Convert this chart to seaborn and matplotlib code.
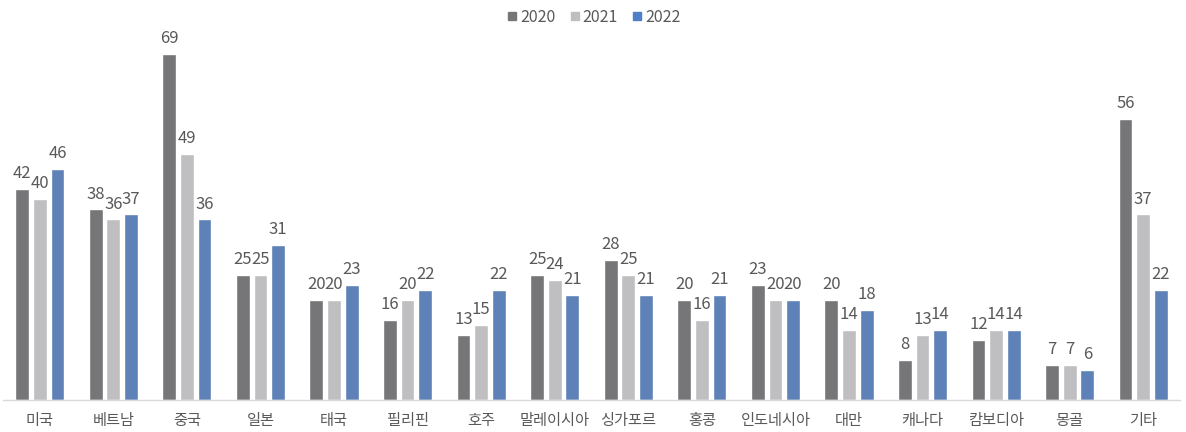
import pandas as pd
import matplotlib.pyplot as plt
import seaborn as sns
from matplotlib.lines import Line2D

countries = ['미국', '베트남', '중국', '일본', '태국', '필리핀', '호주', '말레이시아',
             '싱가포르', '홍콩', '인도네시아', '대만', '캐나다', '캄보디아', '몽골', '기타']
years = ['2020', '2021', '2022']
v2020 = [42, 38, 69, 25, 20, 16, 13, 25, 28, 20, 23, 20, 8, 12, 7, 56]
v2021 = [40, 36, 49, 25, 20, 20, 15, 24, 25, 16, 20, 14, 13, 14, 7, 37]
v2022 = [46, 37, 36, 31, 23, 22, 22, 21, 21, 21, 20, 18, 14, 14, 6, 22]
colors = ['#767678', '#bfbfc1', '#4f7fc7']

df = pd.DataFrame({
    'country': countries * 3,
    'year': [y for y in years for _ in countries],
    'value': v2020 + v2021 + v2022,
})

sns.set_style('white')
plt.rcParams['font.family'] = ['Noto Sans CJK KR', 'DejaVu Sans']

fig = plt.figure(figsize=(11.86, 4.32), dpi=100)
ax = fig.add_axes([3 / 1186, 32 / 432, 1177 / 1186, 360 / 432])

sns.barplot(data=df, x='country', y='value', hue='year', palette=colors,
            width=0.72, gap=0.22, legend=False, ax=ax)

for cont in ax.containers:
    ax.bar_label(cont, padding=5, fontsize=12, color='#595959')

ax.set_ylim(0, 71.8)
ax.set_xlim(-0.5, len(countries) - 0.5)
ax.set_xlabel('')
ax.set_ylabel('')
ax.set_yticks([])
ax.tick_params(axis='x', length=0, labelsize=11, labelcolor='#595959', pad=9)
for s in ['top', 'right', 'left']:
    ax.spines[s].set_visible(False)
ax.spines['bottom'].set_color('#d9d9d9')
ax.spines['bottom'].set_linewidth(1)

handles = [Line2D([], [], marker='s', linestyle='', markersize=6, color=c) for c in colors]
fig.legend(handles, years, loc='center', bbox_to_anchor=(0.5, 1 - 17 / 432), ncol=3,
           frameon=False, fontsize=11.5, labelcolor='#595959', handletextpad=0.1,
           columnspacing=0.8, handlelength=0.8)

fig.savefig('out.png', dpi=100)
